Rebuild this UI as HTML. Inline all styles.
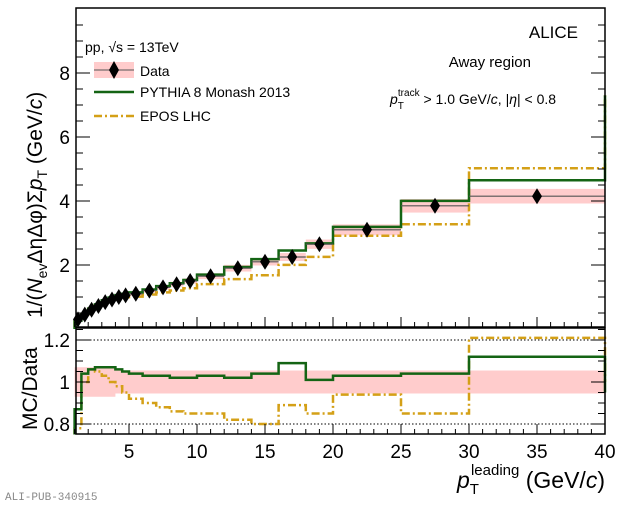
<!DOCTYPE html>
<html><head><meta charset="utf-8"><style>
body{margin:0;background:#fff;width:620px;height:504px;overflow:hidden}
svg{font-family:"Liberation Sans",sans-serif}
</style></head><body>
<svg id="s" width="620" height="504" xmlns="http://www.w3.org/2000/svg"></svg>
<script>
const edges=[1,1.5,2,2.5,3,3.5,4,4.5,5,6,7,8,9,10,12,14,16,18,20,25,30,40];
const data=[0.3,0.45,0.6,0.72,0.84,0.92,1.0,1.05,1.1,1.2,1.3,1.4,1.5,1.65,1.9,2.1,2.25,2.65,3.1,3.85,4.15];
const rp=[0.87,1.04,1.06,1.07,1.07,1.07,1.06,1.05,1.04,1.03,1.03,1.02,1.02,1.03,1.02,1.04,1.09,1.01,1.03,1.04,1.12];
const re=[0.78,1.0,1.06,1.05,1.03,1.0,0.98,0.95,0.92,0.9,0.88,0.86,0.85,0.85,0.82,0.80,0.89,0.85,0.94,0.85,1.21];
const X=v=>605-(40-v)*13.6, Y=v=>329-v*32, R=v=>382-(v-1)*210;
let o='';
for(let i=0;i<21;i++){const e=data[i]*0.055;o+=`<rect x="${X(edges[i])}" y="${Y(data[i]+e)}" width="${X(edges[i+1])-X(edges[i])}" height="${Y(data[i]-e)-Y(data[i]+e)}" fill="#ffcccc"/>`;}
let bu='',bl='';for(let i=0;i<21;i++){const w=i<6?0.07:0.055;bu+=`${X(edges[i])},${R(1+w)} ${X(edges[i+1])},${R(1+w)} `;bl=`${X(edges[i+1])},${R(1-w)} ${X(edges[i])},${R(1-w)} `+bl;}
o+=`<polygon points="${bu}${bl}" fill="#ffcccc"/>`;
o+=`<line x1="76" y1="340" x2="605" y2="340" stroke="#000" stroke-dasharray="1.5,2"/><line x1="76" y1="424" x2="605" y2="424" stroke="#000" stroke-dasharray="1.5,2"/>`;
function step(vals,f,lo,hi){let p=`M${X(1)},${f(lo)}`;for(let i=0;i<21;i++)p+=` L${X(edges[i])},${f(vals[i])} L${X(edges[i+1])},${f(vals[i])}`;p+=` L${X(40)},${f(hi)}`;return p;}
const pd=data.map((d,i)=>d*rp[i]),ed=data.map((d,i)=>d*re[i]);
o+=`<path d="${step(ed,Y,0,7.3)}" fill="none" stroke="#d4a017" stroke-width="2.5" stroke-dasharray="8,3,2,3"/>`;
o+=`<path d="${step(pd,Y,0,7.3)}" fill="none" stroke="#146414" stroke-width="2.5"/>`;
o+=`<path d="${step(re,R,0.75,1.0)}" fill="none" stroke="#d4a017" stroke-width="2.5" stroke-dasharray="8,3,2,3"/>`;
o+=`<path d="${step(rp,R,0.75,0.95)}" fill="none" stroke="#146414" stroke-width="2.5"/>`;
for(let i=0;i<21;i++){const c=(edges[i]+edges[i+1])/2,x=X(c),y=Y(data[i]);o+=`<line x1="${X(edges[i])}" y1="${y}" x2="${X(edges[i+1])}" y2="${y}" stroke="#555" stroke-width="1.2"/><path d="M${x},${y-8}L${x+5},${y}L${x},${y+8}L${x-5},${y}Z"/>`;}
o+=`<rect x="76" y="8" width="529" height="319" fill="none" stroke="#000" stroke-width="1.5"/><rect x="76" y="328" width="529" height="106" fill="none" stroke="#000" stroke-width="1.5"/>`;
for(let v=1;v<=40;v++){const x=X(v),big=v%5==0;o+=`<line x1="${x}" y1="327" x2="${x}" y2="${327-(big?10:5)}" stroke="#000"/><line x1="${x}" y1="434" x2="${x}" y2="${434-(big?10:5)}" stroke="#000"/>`;if(big)o+=`<text x="${x}" y="458" font-size="19" text-anchor="middle">${v}</text>`;}
for(let k=1;k<=19;k++){const v=k*0.5,y=Y(v);if(y<9)continue;const big=k%4==0;o+=`<line x1="76" y1="${y}" x2="${76+(big?14:7)}" y2="${y}" stroke="#000"/><line x1="605" y1="${y}" x2="${605-(big?14:7)}" y2="${y}" stroke="#000"/>`;if(big)o+=`<text x="70" y="${y+7}" font-size="19" text-anchor="end">${v}</text>`;}
for(let k=16;k<=25;k++){const v=k*0.05,y=R(v);const big=k%4==0;o+=`<line x1="76" y1="${y}" x2="${76+(big?14:7)}" y2="${y}" stroke="#000"/><line x1="605" y1="${y}" x2="${605-(big?14:7)}" y2="${y}" stroke="#000"/>`;if(big)o+=`<text x="70" y="${y+7}" font-size="19" text-anchor="end">${v.toFixed(1).replace('1.0','1')}</text>`;}
o+=`<text transform="translate(42,318) rotate(-90)" font-size="21">1/(<tspan font-style="italic">N</tspan><tspan font-size="14" dy="5">ev</tspan><tspan dy="-5">ΔηΔφ)Σ</tspan><tspan font-style="italic">p</tspan><tspan font-size="14" dy="5">T</tspan><tspan dy="-5"> (GeV/</tspan><tspan font-style="italic">c</tspan>)</text>`;
o+=`<text transform="translate(37,430) rotate(-90)" font-size="21">MC/Data</text>`;
o+=`<text x="605" y="488" font-size="23" text-anchor="end"><tspan font-style="italic">p</tspan><tspan font-size="15" dy="6">T</tspan><tspan font-size="15" dx="-8" dy="-19">leading</tspan><tspan dy="13"> (GeV/</tspan><tspan font-style="italic">c</tspan>)</text>`;
o+=`<text x="5" y="500" font-size="11" fill="#888" font-family="Liberation Mono,monospace">ALI-PUB-340915</text>`;
o+=`<text x="85" y="52" font-size="14">pp, √s = 13TeV</text>`;
o+=`<rect x="94" y="62" width="40" height="16" fill="#ffcccc"/><line x1="94" y1="70" x2="134" y2="70" stroke="#555"/><path d="M114,61L119,70L114,79L109,70Z"/><text x="140" y="76" font-size="14">Data</text>`;
o+=`<line x1="94" y1="92" x2="134" y2="92" stroke="#146414" stroke-width="2.5"/><text x="140" y="97" font-size="14">PYTHIA 8 Monash 2013</text>`;
o+=`<line x1="94" y1="116" x2="134" y2="116" stroke="#d4a017" stroke-width="2.5" stroke-dasharray="8,3,2,3"/><text x="140" y="121" font-size="14">EPOS LHC</text>`;
o+=`<text x="578" y="38" font-size="17" text-anchor="end">ALICE</text><text x="531" y="67" font-size="15" text-anchor="end">Away region</text>`;
o+=`<text x="390" y="104" font-size="14"><tspan font-style="italic">p</tspan><tspan font-size="10" dy="5">T</tspan><tspan font-size="10" dx="-6" dy="-13">track</tspan><tspan dy="8"> &gt; 1.0 GeV/</tspan><tspan font-style="italic">c</tspan>, |<tspan font-style="italic">η</tspan>| &lt; 0.8</text>`;
document.getElementById('s').innerHTML=o;
</script>
</body></html>
